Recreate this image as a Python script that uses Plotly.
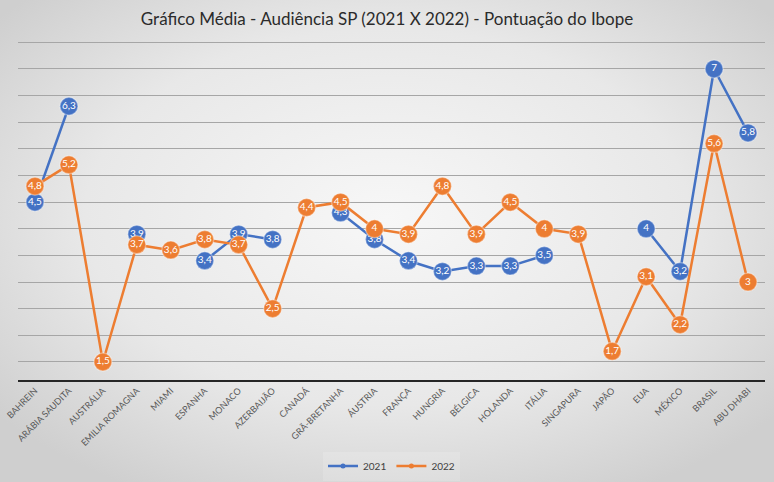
import plotly.graph_objects as go

categories = ["BAHREIN", "ARÁBIA SAUDITA", "AUSTRÁLIA", "EMILIA ROMAGNA", "MIAMI", "ESPANHA",
              "MONACO", "AZERBAIJÃO", "CANADÁ", "GRÃ-BRETANHA", "ÁUSTRIA", "FRANÇA", "HUNGRIA",
              "BÉLGICA", "HOLANDA", "ITÁLIA", "SINGAPURA", "JAPÃO", "EUA", "MÉXICO", "BRASIL", "ABU DHABI"]
values_2021 = [4.5, 6.3, None, 3.9, None, 3.4, 3.9, 3.8, None, 4.3, 3.8, 3.4, 3.2, 3.3, 3.3, 3.5,
               None, None, 4, 3.2, 7, 5.8]
values_2022 = [4.8, 5.2, 1.5, 3.7, 3.6, 3.8, 3.7, 2.5, 4.4, 4.5, 4, 3.9, 4.8, 3.9, 4.5, 4,
               3.9, 1.7, 3.1, 2.2, 5.6, 3]
series_names = ["2021", "2022"]
colors = ["#4472C4", "#ED7D31"]

W, H = 774, 482
ml, mr, mt, mb = 18, 9, 37, 102
pw, ph = W - ml - mr, H - mt - mb


def fmt(v):
    if v is None:
        return ""
    s = ("%g" % v)
    return s.replace(".", ",")


fig = go.Figure()
for name, vals, col in zip(series_names, [values_2021, values_2022], colors):
    fig.add_trace(go.Scatter(
        x=categories, y=vals, name=name, mode="lines+markers+text",
        line=dict(color=col, width=2.5),
        marker=dict(size=18, color=col, line=dict(color="rgba(255,255,255,0.35)", width=1.5)),
        text=[fmt(v) for v in vals], textposition="middle center",
        textfont=dict(family="Lato", size=10, color="white"),
        connectgaps=False, showlegend=False, hoverinfo="skip",
    ))
# legend entries with small markers
for name, col in zip(series_names, colors):
    fig.add_trace(go.Scatter(
        x=[None], y=[None], name=name, mode="lines+markers",
        line=dict(color=col, width=2.5), marker=dict(size=5, color=col),
        showlegend=True,
    ))

bg_svg = ("data:image/svg+xml;utf8,"
          "<svg xmlns='http://www.w3.org/2000/svg' width='774' height='482'>"
          "<defs><radialGradient id='g' cx='50%' cy='45%' r='65%'>"
          "<stop offset='0%' stop-color='%23f7f7f7'/>"
          "<stop offset='60%' stop-color='%23e8e8e8'/>"
          "<stop offset='100%' stop-color='%23cfcfcf'/>"
          "</radialGradient></defs>"
          "<rect width='774' height='482' fill='url(%23g)'/></svg>")

fig.update_layout(
    width=W, height=H,
    margin=dict(l=ml, r=mr, t=mt, b=mb, autoexpand=False),
    paper_bgcolor="#e3e3e3", plot_bgcolor="rgba(0,0,0,0)",
    title=dict(text="Gráfico Média - Audiência SP (2021 X 2022) - Pontuação do Ibope",
               x=0.5, xanchor="center", y=1 - 19 / H, yanchor="middle",
               font=dict(family="Lato", size=17, color="#2b2b2b")),
    showlegend=True,
    legend=dict(orientation="h", x=0.5, xanchor="center", y=-(466 - 380) / ph, yanchor="middle",
                font=dict(family="Lato", size=10, color="#404040"),
                bgcolor="rgba(255,255,255,0.15)"),
    xaxis=dict(type="category", range=[-0.5, 21.5], tickangle=-45, automargin=False,
               tickfont=dict(family="Lato", size=9, color="#595959"),
               showgrid=False, showline=True, linecolor="#262626", linewidth=2,
               ticks=""),
    yaxis=dict(range=[1.162, 7.6], dtick=0.5, tick0=0, showticklabels=False, automargin=False,
               showgrid=True, gridcolor="#a6a6a6", gridwidth=1, zeroline=False,
               showline=False),
    images=[dict(source=bg_svg, xref="paper", yref="paper",
                 x=-ml / pw, y=1 + mt / ph, sizex=W / pw, sizey=H / ph,
                 xanchor="left", yanchor="top", sizing="stretch", layer="below")],
)

fig.write_html("out.html", config={"displayModeBar": False},
               post_script="document.body.style.margin='0';document.body.style.overflow='hidden';")
